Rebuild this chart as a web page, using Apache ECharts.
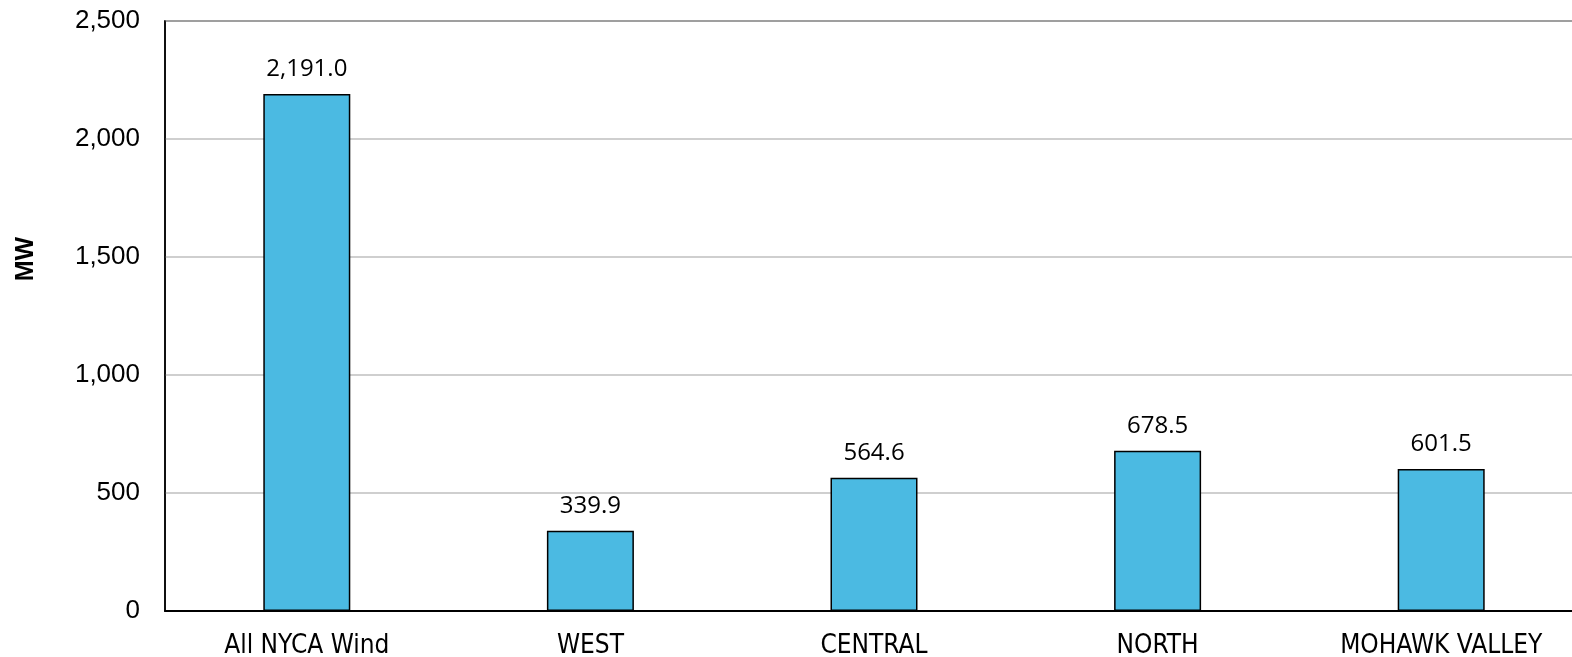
<!DOCTYPE html>
<html>
<head>
<meta charset="utf-8">
<style>
  html, body { margin: 0; padding: 0; background: #fff; }
  #chart { width: 1572px; height: 657px; }
</style>
<script src="https://cdn.jsdelivr.net/npm/echarts@6/dist/echarts.min.js"></script>
</head>
<body>
<div id="chart"></div>
<script>
// data
const categories = ['All NYCA Wind', 'WEST', 'CENTRAL', 'NORTH', 'MOHAWK VALLEY'];
const capacityMW = [2191.0, 339.9, 564.6, 678.5, 601.5];

const fmt = (v) => v.toLocaleString('en-US', { minimumFractionDigits: 1, maximumFractionDigits: 1 });

const chart = echarts.init(document.getElementById('chart'));
chart.setOption({
  animation: false,
  grid: {
    left: 165,
    top: 21,
    width: 1418,
    height: 590,
    outerBoundsMode: 'none',
    containLabel: false,
    show: true,
    borderColor: '#000',
    borderWidth: 1.5,
  },
  xAxis: {
    type: 'category',
    data: categories,
    axisLine: { lineStyle: { color: '#000', width: 2 } },
    axisTick: { show: false },
    axisLabel: {
      color: '#000',
      fontFamily: 'DejaVu Sans Condensed',
      fontSize: 26,
      margin: 22,
    },
  },
  yAxis: {
    type: 'value',
    min: 0,
    max: 2500,
    interval: 500,
    name: 'MW',
    nameLocation: 'middle',
    nameGap: 126,
    nameTextStyle: {
      color: '#000',
      fontFamily: 'Liberation Sans',
      fontWeight: 'bold',
      fontSize: 25,
      padding: [0, 0, 0, 114],
    },
    axisLine: { show: true, lineStyle: { color: '#000', width: 1.5 } },
    axisTick: { show: false },
    axisLabel: {
      color: '#000',
      fontFamily: 'Liberation Sans',
      fontSize: 26,
      margin: 25,
      formatter: (v) => v.toLocaleString('en-US'),
    },
    splitLine: { lineStyle: { color: '#bfbfbf', width: 1.5 } },
  },
  series: [
    {
      type: 'bar',
      data: capacityMW,
      barWidth: 87,
      itemStyle: {
        color: '#4bbae2',
        borderColor: '#000',
        borderWidth: 1.5,
      },
      label: {
        show: true,
        position: 'top',
        distance: 13,
        color: '#000',
        fontFamily: 'Open Sans',
        fontSize: 24,
        formatter: (p) => fmt(p.value),
      },
    },
  ],
});
</script>
</body>
</html>
